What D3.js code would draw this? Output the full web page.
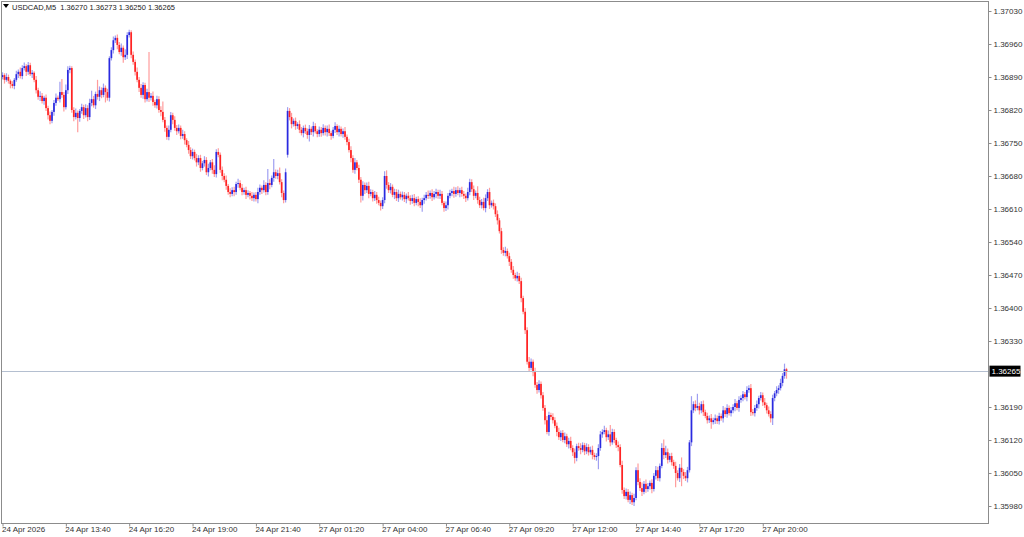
<!DOCTYPE html>
<html><head><meta charset="utf-8">
<script src="https://cdn.jsdelivr.net/npm/d3@7"></script>
<style>body{margin:0;background:#fff}svg{display:block}</style>
</head><body><svg id="c" width="1024" height="537"></svg>
<script>
const symbol = "USDCAD,M5";
const lastBar = {open: 1.36270, high: 1.36273, low: 1.36250, close: 1.36265};
const priceTicks = [1.37030,1.36960,1.36890,1.36820,1.36750,1.36680,1.36610,1.36540,1.36470,1.36400,1.36330,1.36190,1.36120,1.36050,1.35980];
const timeTickBars = [0,32,64,96,128,160,192,224,256,288,320,352,384];
const timeTickLabels = ["24 Apr 2026","24 Apr 13:40","24 Apr 16:20","24 Apr 19:00","24 Apr 21:40","27 Apr 01:20","27 Apr 04:00","27 Apr 06:40","27 Apr 09:20","27 Apr 12:00","27 Apr 14:40","27 Apr 17:20","27 Apr 20:00"];
// session opening prices (bar index -> open); other bars open at the previous close
const sessionOpens = [{bar: 0, open: 1.36890}, {bar: 144, open: 1.36725}];
const closes = [
1.36894,1.36884,1.36890,1.36882,1.36875,1.36871,1.36884,1.36896,1.36901,1.36892,
1.36909,1.36913,1.36901,1.36915,1.36896,1.36899,1.36884,1.36862,1.36848,1.36850,
1.36839,1.36846,1.36824,1.36809,1.36797,1.36816,1.36835,1.36846,1.36843,1.36858,
1.36852,1.36826,1.36862,1.36905,1.36909,1.36820,1.36805,1.36814,1.36803,1.36818,
1.36826,1.36809,1.36824,1.36805,1.36835,1.36843,1.36830,1.36854,1.36848,1.36862,
1.36852,1.36867,1.36858,1.36846,1.36930,1.36947,1.36968,1.36973,1.36958,1.36943,
1.36952,1.36932,1.36937,1.36979,1.36985,1.36937,1.36922,1.36901,1.36884,1.36867,
1.36852,1.36873,1.36843,1.36858,1.36846,1.36850,1.36837,1.36830,1.36843,1.36820,
1.36816,1.36799,1.36782,1.36763,1.36778,1.36809,1.36799,1.36782,1.36775,1.36782,
1.36765,1.36769,1.36756,1.36746,1.36735,1.36722,1.36731,1.36718,1.36709,1.36718,
1.36697,1.36707,1.36714,1.36688,1.36697,1.36709,1.36693,1.36684,1.36731,1.36725,
1.36693,1.36680,1.36672,1.36659,1.36646,1.36642,1.36650,1.36646,1.36663,1.36665,
1.36655,1.36646,1.36650,1.36640,1.36644,1.36638,1.36633,1.36640,1.36631,1.36646,
1.36655,1.36650,1.36661,1.36646,1.36665,1.36661,1.36676,1.36688,1.36680,1.36686,
1.36667,1.36644,1.36629,1.36688,
1.36818,1.36805,1.36790,1.36797,1.36786,1.36790,1.36778,1.36771,1.36782,1.36775,
1.36767,1.36780,1.36773,1.36786,1.36775,1.36769,1.36778,1.36771,1.36782,1.36773,
1.36780,1.36771,1.36765,1.36778,1.36786,1.36773,1.36780,1.36769,1.36775,1.36763,
1.36752,1.36735,1.36718,1.36693,1.36709,1.36697,1.36672,1.36638,1.36661,1.36650,
1.36659,1.36642,1.36646,1.36633,1.36640,1.36629,1.36623,1.36616,1.36629,1.36680,
1.36661,1.36650,1.36657,1.36640,1.36646,1.36633,1.36642,1.36635,1.36640,1.36631,
1.36638,1.36633,1.36627,1.36633,1.36623,1.36631,1.36625,1.36618,1.36629,1.36633,
1.36640,1.36638,1.36644,1.36635,1.36642,1.36646,1.36638,1.36642,1.36623,1.36612,
1.36618,1.36638,1.36644,1.36648,1.36642,1.36650,1.36644,1.36650,1.36642,1.36638,
1.36633,1.36646,1.36667,1.36652,1.36638,1.36644,1.36629,1.36618,1.36625,1.36612,
1.36633,1.36646,1.36618,1.36623,1.36616,1.36599,1.36586,1.36563,1.36523,1.36517,
1.36521,1.36510,1.36498,1.36481,1.36470,1.36463,1.36468,1.36457,1.36421,1.36392,
1.36353,1.36286,1.36273,1.36286,1.36264,1.36237,1.36226,1.36239,1.36215,1.36188,
1.36162,1.36137,1.36173,1.36169,1.36162,1.36150,1.36137,1.36126,1.36135,1.36120,
1.36128,1.36111,1.36118,1.36103,1.36094,1.36082,1.36107,1.36103,1.36099,1.36109,
1.36096,1.36105,1.36094,1.36099,1.36088,1.36084,1.36086,1.36103,1.36132,1.36137,
1.36141,1.36126,1.36132,1.36115,1.36137,1.36120,1.36109,1.36105,1.36067,1.36014,
1.36001,1.36010,1.35993,1.36003,1.35988,1.35997,1.36056,1.36031,1.36018,1.36010,
1.36027,1.36016,1.36022,1.36029,1.36016,1.36044,1.36056,1.36039,1.36065,1.36103,
1.36088,1.36094,1.36078,1.36086,1.36073,1.36065,1.36050,1.36039,1.36061,1.36052,
1.36044,1.36039,1.36056,1.36115,1.36183,1.36196,1.36188,1.36192,1.36183,1.36196,
1.36179,1.36171,1.36162,1.36166,1.36158,1.36162,1.36166,1.36160,1.36171,1.36166,
1.36183,1.36175,1.36188,1.36177,1.36183,1.36190,1.36198,1.36188,1.36205,1.36209,
1.36217,1.36211,1.36226,1.36230,1.36179,1.36177,1.36188,1.36196,1.36209,1.36215,
1.36200,1.36194,1.36183,1.36175,1.36166,1.36209,1.36219,1.36226,1.36230,1.36241,
1.36256,1.36270,1.36265];
// wick lengths above / below the candle body, in points (0.00001)
const upperWicks = [
6,4,8,5,3,6,4,7,5,9, 6,8,4,7,5,6,3,8,5,10, 6,4,7,5,8,4,6,9,5,22, 28,6,12,8,5,4,6,9,5,4,
7,5,8,6,9,18,7,5,30,8, 6,9,5,7,4,6,8,5,7,6, 9,5,12,6,5,4,7,5,9,6, 8,6,5,7,85,6,9,5,7,6,
8,22,6,5,9,7,5,8,6,7, 5,9,6,4,8,6,7,5,9,6, 7,5,8,6,9,5,7,10,6,8, 5,7,6,9,4,8,6,7,5,9,
6,8,5,7,6,4,8,5,6,9, 7,5,10,6,30,8,5,28,6,7, 12,6,5,8,
8,6,9,5,7,4,8,6,5,7, 6,8,5,9,6,4,7,6,8,5, 7,9,5,6,8,4,7,5,6,9, 5,7,8,6,9,5,7,6,8,5,
7,9,6,5,8,6,7,5,6,10, 12,6,8,5,7,6,9,5,7,6, 5,8,6,7,9,5,6,8,5,7, 6,9,5,8,6,7,5,9,6,4,
8,6,7,5,9,6,8,5,7,6, 5,9,7,6,8,5,14,7,6,9, 8,6,9,5,7,6,8,5,7,6, 9,5,7,6,8,5,9,6,7,5,
8,6,10,7,5,9,6,8,5,7, 6,9,7,5,8,6,7,9,5,6, 8,5,7,9,6,8,5,7,10,6, 5,8,6,7,9,5,6,8,7,6,
9,5,8,20,7,6,5,8,6,9, 5,7,6,8,5,9,6,14,8,12, 6,9,7,5,8,6,9,7,5,10, 18,14,8,6,7,5,9,6,8,22,
6,8,7,5,30,6,8,26,7,6, 8,5,7,6,9,5,8,6,7,5, 9,6,8,5,7,6,9,5,8,6, 7,5,8,6,9,7,6,8,5,7,
6,9,5,8,6,7,5,8,6,9, 6,12,3];
const lowerWicks = [
5,8,4,6,9,5,7,4,8,5, 7,5,9,6,4,8,5,7,6,9, 5,8,6,9,7,5,8,6,4,7, 6,9,5,8,7,6,9,5,30,8,
6,8,5,9,6,7,5,8,6,9, 7,5,22,6,8,5,7,6,9,5, 8,12,6,9,5,7,6,8,5,9, 6,8,7,5,9,6,8,5,7,6,
9,5,8,6,7,5,9,6,8,5, 7,6,9,5,8,6,7,5,9,6, 8,5,7,6,9,5,8,6,7,5, 6,9,5,8,6,7,5,9,6,8,
5,7,6,9,5,8,6,7,5,9, 6,8,5,7,6,9,5,8,6,7, 5,9,7,5,
6,7,9,5,8,6,7,5,9,6, 8,14,6,9,5,7,6,8,5,7, 9,6,8,5,7,6,9,5,8,6, 7,5,9,6,8,5,7,14,10,8,
6,9,5,7,6,8,5,9,6,7, 8,6,7,5,9,6,8,5,7,6, 9,5,8,6,7,5,9,6,14,8, 5,7,6,8,5,9,6,7,5,8,
6,9,5,7,8,6,5,9,6,7, 8,5,7,6,9,5,8,6,7,5, 9,6,8,5,7,6,9,5,8,6, 7,5,9,6,8,5,7,6,9,5,
8,6,7,5,9,6,8,5,7,6, 9,5,8,6,7,5,9,6,8,5, 7,6,9,5,8,12,7,6,9,5, 8,6,7,5,9,6,8,28,6,7,
5,9,6,8,5,7,6,9,5,8, 6,7,5,9,6,8,5,7,6,9, 5,8,6,7,9,5,8,6,7,5, 9,6,8,5,7,6,30,5,8,30,
7,6,9,5,8,6,7,5,9,6, 8,5,7,6,14,5,8,6,7,5, 9,6,8,5,7,6,9,5,8,6, 7,5,9,6,8,5,7,6,9,5,
8,6,7,5,9,14,7,6,8,5, 7,6,15];

const POINT = 0.00001;
const openMap = new Map(sessionOpens.map(d => [d.bar, d.open]));
const bars = closes.map((c, i) => {
  const o = openMap.has(i) ? openMap.get(i) : closes[i - 1];
  const hi = Math.max(o, c) + upperWicks[i] * POINT;
  const lo = Math.min(o, c) - lowerWicks[i] * POINT;
  return {i, o, c, hi, lo};
});

const svg = d3.select("#c");
const W = 1024, H = 537;
const plot = {left: 1.5, top: 1.5, right: 988.5, bottom: 523.5};
const font = "Tahoma, 'Liberation Sans', Arial, sans-serif";
const fs = "8px";

const x = d3.scaleLinear().domain([0, closes.length - 1]).range([2.5, 786.5]);
const y = d3.scaleLinear().domain([1.35980, 1.37030]).range([506, 11]);

svg.append("rect").attr("width", W).attr("height", H).attr("fill", "#fff");

// candles
const g = svg.append("g");
const up = "#2a2ae0", down = "#ff2424";
g.selectAll("line.w").data(bars).join("line")
  .attr("class", "w")
  .attr("x1", d => x(d.i)).attr("x2", d => x(d.i))
  .attr("y1", d => y(d.hi)).attr("y2", d => y(d.lo))
  .attr("stroke", d => d.c >= d.o ? up : down)
  .attr("stroke-opacity", 0.45).attr("stroke-width", 1.2);
g.selectAll("rect.b").data(bars).join("rect")
  .attr("class", "b")
  .attr("x", d => x(d.i) - 0.85).attr("width", 1.7)
  .attr("y", d => y(Math.max(d.o, d.c)))
  .attr("height", d => Math.max(1, Math.abs(y(d.o) - y(d.c))))
  .attr("fill", d => d.c >= d.o ? up : down);

// current price line
const lineY = Math.floor(y(lastBar.close)) + 0.5;
svg.append("line")
  .attr("x1", plot.left).attr("x2", plot.right)
  .attr("y1", lineY).attr("y2", lineY)
  .attr("stroke", "#b4bfd0").attr("stroke-width", 1);

// frame
svg.append("rect")
  .attr("x", plot.left).attr("y", plot.top)
  .attr("width", plot.right - plot.left).attr("height", plot.bottom - plot.top)
  .attr("fill", "none").attr("stroke", "#8c8c8c").attr("stroke-width", 1);

// price axis
const yAxis = d3.axisRight(y).tickValues(priceTicks).tickSize(3).tickPadding(2).tickFormat(d3.format(".5f"));
const ya = svg.append("g").attr("transform", `translate(${plot.right},0)`).call(yAxis);
ya.select(".domain").remove();
ya.selectAll("line").attr("stroke", "#8c8c8c");
ya.selectAll("text").attr("fill", "#333").attr("font-size", fs).attr("font-family", font);

// current price tag
const py = y(lastBar.close);
svg.append("rect").attr("x", plot.right + 1).attr("y", py - 6).attr("width", 31).attr("height", 11).attr("fill", "#000");
svg.append("text").attr("x", plot.right + 3).attr("y", py).attr("dy", "0.32em")
  .attr("fill", "#fff").attr("font-size", fs).attr("font-family", font)
  .text(d3.format(".5f")(lastBar.close));

// time axis
const xAxis = d3.axisBottom(x).tickValues(timeTickBars).tickSize(3)
  .tickFormat((d, k) => timeTickLabels[k]);
const xa = svg.append("g").attr("transform", `translate(0,${plot.bottom})`).call(xAxis);
xa.select(".domain").remove();
xa.selectAll("line").attr("stroke", "#8c8c8c");
xa.selectAll("text").attr("text-anchor", "start").attr("x", -1).attr("y", 3).attr("dy", "0.71em")
  .attr("fill", "#333").attr("font-size", fs).attr("font-family", font);

// title
svg.append("path").attr("d", "M3,4 L9,4 L6,8 Z").attr("fill", "#000");
svg.append("text").attr("x", 12).attr("y", 10)
  .attr("fill", "#222").attr("font-size", "7.5px").attr("font-family", font)
  .attr("xml:space", "preserve")
  .text(`${symbol}  ${d3.format(".5f")(lastBar.open)} ${d3.format(".5f")(lastBar.high)} ${d3.format(".5f")(lastBar.low)} ${d3.format(".5f")(lastBar.close)}`);
</script></body></html>
